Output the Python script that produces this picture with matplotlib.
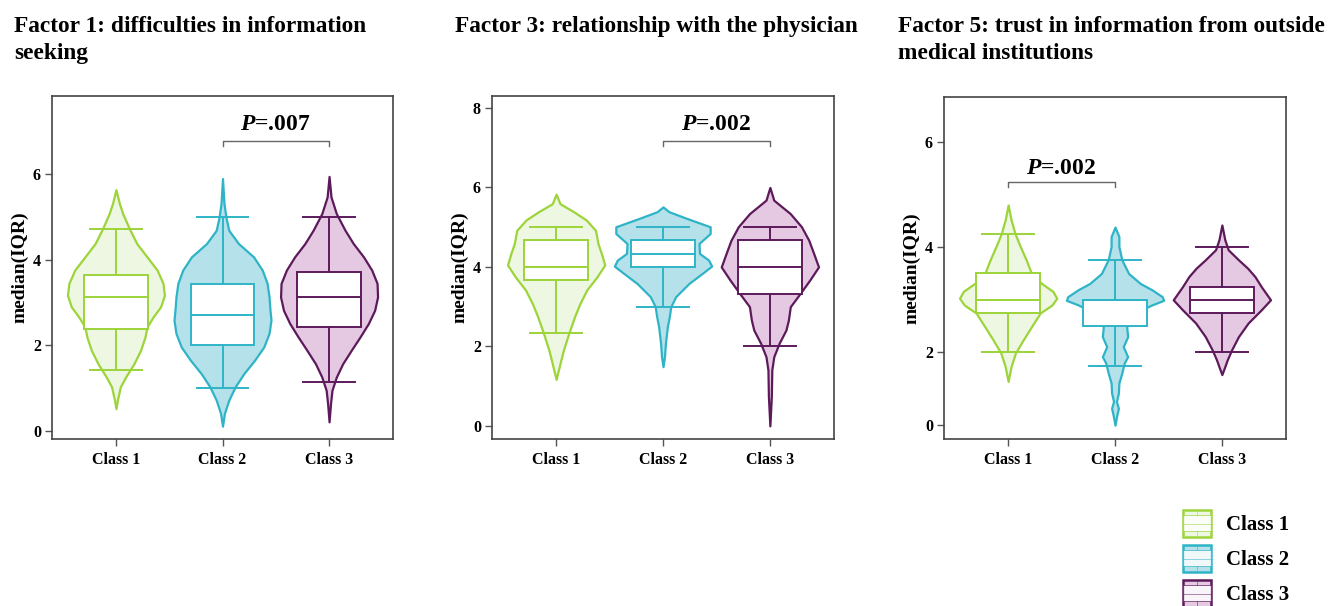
import matplotlib
matplotlib.use('Agg')
import matplotlib.pyplot as plt
from matplotlib.legend_handler import HandlerBase
from matplotlib.patches import Rectangle
from matplotlib.lines import Line2D

plt.rcParams['font.family'] = ['Liberation Serif', 'DejaVu Serif']
plt.rcParams['font.weight'] = 'bold'
plt.rcParams['mathtext.fontset'] = 'custom'
plt.rcParams['mathtext.it'] = 'Liberation Serif:bold:italic'
plt.rcParams['mathtext.rm'] = 'Liberation Serif:bold'

classes = ['Class 1', 'Class 2', 'Class 3']
edge_colors = ['#9CD43A', '#2EB4C6', '#5D1A5B']
fill_colors = ['#EEF7E1', '#B5E1EB', '#E5C9E3']

# ---- Factor 1 ----
f1_title = 'Factor 1: difficulties in information\nseeking'
f1_q1 = [2.38, 2.00, 2.43]
f1_med = [3.14, 2.71, 3.14]
f1_q3 = [3.64, 3.43, 3.71]
f1_lo = [1.43, 1.00, 1.14]
f1_hi = [4.71, 5.00, 5.00]
f1_c1_y = [5.64, 5.32, 5.08, 4.72, 4.38, 4.07, 3.76, 3.45, 3.17, 2.90, 2.67, 2.43, 2.20, 1.89, 1.57, 1.26, 1.03, 0.72, 0.52]
f1_c1_d = [0.00, 0.07, 0.14, 0.28, 0.43, 0.64, 0.85, 0.97, 1.00, 0.92, 0.77, 0.64, 0.60, 0.51, 0.37, 0.20, 0.09, 0.03, 0.00]
f1_c2_y = [5.90, 5.32, 5.00, 4.69, 4.38, 4.07, 3.76, 3.45, 3.13, 2.82, 2.59, 2.28, 1.96, 1.65, 1.34, 1.03, 0.72, 0.41, 0.11]
f1_c2_d = [0.00, 0.03, 0.07, 0.13, 0.33, 0.64, 0.82, 0.92, 0.96, 0.98, 1.00, 0.96, 0.85, 0.66, 0.44, 0.26, 0.13, 0.04, 0.00]
f1_c3_y = [5.95, 5.47, 5.08, 4.69, 4.38, 4.07, 3.76, 3.45, 3.13, 2.82, 2.51, 2.20, 1.89, 1.57, 1.26, 0.95, 0.64, 0.21]
f1_c3_d = [0.00, 0.04, 0.15, 0.33, 0.50, 0.71, 0.88, 0.99, 1.00, 0.94, 0.81, 0.64, 0.46, 0.28, 0.15, 0.06, 0.03, 0.00]
f1_ylim = (-0.19, 7.83)
f1_yticks = [0, 2, 4, 6]
f1_ylabels = ['0', '2', '4', '6']
f1_pair = (2, 3)
f1_bracket_y = 6.77
f1_p = '$P$=.007'
f1_p_y = 7.17

# ---- Factor 3 ----
f3_title = 'Factor 3: relationship with the physician'
f3_q1 = [3.67, 4.00, 3.33]
f3_med = [4.00, 4.33, 4.00]
f3_q3 = [4.67, 4.67, 4.67]
f3_lo = [2.33, 3.00, 2.00]
f3_hi = [5.00, 5.00, 5.00]
f3_c1_y = [5.83, 5.59, 5.39, 5.18, 4.92, 4.59, 4.34, 4.05, 3.75, 3.42, 3.08, 2.75, 2.33, 1.91, 1.57, 1.17]
f3_c1_d = [0.00, 0.08, 0.36, 0.62, 0.81, 0.86, 0.93, 1.00, 0.84, 0.63, 0.49, 0.38, 0.26, 0.15, 0.08, 0.00]
f3_c2_y = [5.51, 5.39, 5.22, 5.01, 4.84, 4.59, 4.34, 4.17, 4.02, 3.84, 3.58, 3.25, 3.00, 2.75, 2.50, 2.08, 1.74, 1.49]
f3_c2_d = [0.00, 0.12, 0.49, 0.97, 0.97, 0.74, 0.75, 0.94, 1.00, 0.81, 0.53, 0.26, 0.16, 0.13, 0.09, 0.05, 0.03, 0.00]
f3_c3_y = [6.00, 5.68, 5.34, 5.01, 4.67, 4.34, 4.00, 3.67, 3.33, 3.00, 2.66, 2.41, 2.08, 1.74, 1.41, 0.74, 0.00]
f3_c3_d = [0.00, 0.08, 0.42, 0.65, 0.80, 0.90, 1.00, 0.82, 0.62, 0.42, 0.38, 0.33, 0.19, 0.08, 0.04, 0.03, 0.00]
f3_ylim = (-0.33, 8.3)
f3_yticks = [0, 2, 4, 6, 8]
f3_ylabels = ['0', '2', '4', '6', '8']
f3_pair = (2, 3)
f3_bracket_y = 7.16
f3_p = '$P$=.002'
f3_p_y = 7.59

# ---- Factor 5 ----
f5_title = 'Factor 5: trust in information from outside\nmedical institutions'
f5_q1 = [2.75, 2.50, 2.75]
f5_med = [3.00, 3.00, 3.00]
f5_q3 = [3.50, 3.00, 3.25]
f5_lo = [2.00, 1.75, 2.00]
f5_hi = [4.25, 3.75, 4.00]
f5_c1_y = [4.80, 4.52, 4.26, 4.01, 3.76, 3.50, 3.31, 3.16, 3.03, 2.90, 2.75, 2.49, 2.24, 1.99, 1.73, 1.45]
f5_c1_d = [0.00, 0.06, 0.14, 0.25, 0.37, 0.48, 0.69, 0.92, 1.00, 0.90, 0.66, 0.48, 0.31, 0.15, 0.06, 0.00]
f5_c2_y = [4.38, 4.20, 4.01, 3.76, 3.50, 3.31, 3.19, 3.06, 2.99, 2.90, 2.81, 2.49, 2.30, 2.11, 1.92, 1.80, 1.61, 1.42, 1.23, 1.07, 0.94, 0.82, 0.62]
f5_c2_d = [0.00, 0.08, 0.08, 0.14, 0.28, 0.52, 0.76, 0.97, 1.00, 0.75, 0.55, 0.24, 0.26, 0.17, 0.26, 0.19, 0.14, 0.08, 0.07, 0.03, 0.07, 0.04, 0.00]
f5_c3_y = [4.42, 4.14, 3.95, 3.76, 3.60, 3.44, 3.25, 3.00, 2.81, 2.56, 2.30, 2.05, 1.86, 1.73, 1.58]
f5_c3_d = [0.00, 0.06, 0.13, 0.34, 0.53, 0.68, 0.81, 1.00, 0.81, 0.54, 0.34, 0.20, 0.11, 0.06, 0.00]
f5_ylim = (0.357, 6.85)
f5_yticks = [0.63, 2, 4, 6]
f5_ylabels = ['0', '2', '4', '6']
f5_pair = (1, 2)
f5_bracket_y = 5.23
f5_p = '$P$=.002'
f5_p_y = 5.49

positions = [1, 2, 3]


def violin_stats(ys, ds):
    return {'coords': ys, 'vals': ds, 'mean': 0, 'median': 0,
            'min': min(ys), 'max': max(ys)}


def draw_panel(ax, profiles, q1, med, q3, lo, hi, ylim, yticks, ylabels,
               pair, bracket_y, p_text, p_y):
    parts = ax.violin([violin_stats(y, d) for y, d in profiles],
                      positions=positions, widths=0.91, showextrema=False)
    for body, ec, fc in zip(parts['bodies'], edge_colors, fill_colors):
        body.set_facecolor(fc)
        body.set_edgecolor(ec)
        body.set_linewidth(1.6)
        body.set_joinstyle('round')
        body.set_alpha(1)
        body.set_zorder(1)

    stats = [{'q1': a, 'med': b, 'q3': c, 'whislo': d, 'whishi': e, 'fliers': []}
             for a, b, c, d, e in zip(q1, med, q3, lo, hi)]
    for st, pos, ec in zip(stats, positions, edge_colors):
        ax.bxp([st], positions=[pos], widths=0.6, capwidths=0.48,
               patch_artist=True, showfliers=False, zorder=2,
               boxprops=dict(facecolor='white', edgecolor=ec, linewidth=1.4),
               whiskerprops=dict(color=ec, linewidth=1.4),
               capprops=dict(color=ec, linewidth=1.4),
               medianprops=dict(color=ec, linewidth=1.4))

    x1, x2 = pair
    dy = (ylim[1] - ylim[0]) * 0.014
    ax.plot([x1, x1, x2, x2], [bracket_y - dy, bracket_y, bracket_y, bracket_y - dy],
            color='#666666', linewidth=1.0, zorder=3)
    ax.text((x1 + x2) / 2, p_y, p_text, ha='center', va='center',
            fontsize=17, fontweight='bold')

    ax.set_xlim(0.4, 3.6)
    ax.set_ylim(*ylim)
    ax.set_xticks(positions)
    ax.set_xticklabels(classes)
    ax.set_yticks(yticks)
    ax.set_yticklabels(ylabels)
    ax.set_ylabel('median(IQR)', fontsize=14, fontweight='bold', labelpad=3)
    ax.tick_params(direction='out', length=5, width=1, color='#555555',
                   labelsize=11.5, pad=3)
    ax.tick_params(axis='x', pad=4)
    for s in ax.spines.values():
        s.set_color('#444444')
        s.set_linewidth(1.2)


class ViolinBoxHandler(HandlerBase):
    def create_artists(self, legend, orig_handle, xdescent, ydescent,
                       width, height, fontsize, trans):
        ec = orig_handle.get_edgecolor()
        fc = orig_handle.get_facecolor()
        x0, y0 = -xdescent, -ydescent
        cx = x0 + width / 2
        outer = Rectangle((x0, y0), width, height, facecolor=fc, edgecolor=ec,
                          linewidth=1.8, transform=trans)
        inner = Rectangle((x0, y0 + 0.22 * height), width, 0.58 * height,
                          facecolor='white', edgecolor=ec, linewidth=0.6,
                          alpha=0.8, transform=trans)
        med = Line2D([x0, x0 + width], [y0 + 0.5 * height] * 2, color=ec,
                     linewidth=0.6, alpha=0.6, transform=trans)
        w_top = Line2D([cx, cx], [y0 + 0.8 * height, y0 + height], color=ec,
                       linewidth=0.6, alpha=0.6, transform=trans)
        w_bot = Line2D([cx, cx], [y0, y0 + 0.22 * height], color=ec,
                       linewidth=0.6, alpha=0.6, transform=trans)
        return [outer, inner, med, w_top, w_bot]


fig = plt.figure(figsize=(13.42, 6.06), dpi=100)
W, H = 1342, 606

ax1 = fig.add_axes([52 / W, 1 - 439 / H, 341 / W, 343 / H])
ax3 = fig.add_axes([492 / W, 1 - 439 / H, 342 / W, 343 / H])
ax5 = fig.add_axes([944 / W, 1 - 439 / H, 342 / W, 342 / H])

draw_panel(ax1, [(f1_c1_y, f1_c1_d), (f1_c2_y, f1_c2_d), (f1_c3_y, f1_c3_d)],
           f1_q1, f1_med, f1_q3, f1_lo, f1_hi, f1_ylim, f1_yticks, f1_ylabels,
           f1_pair, f1_bracket_y, f1_p, f1_p_y)
draw_panel(ax3, [(f3_c1_y, f3_c1_d), (f3_c2_y, f3_c2_d), (f3_c3_y, f3_c3_d)],
           f3_q1, f3_med, f3_q3, f3_lo, f3_hi, f3_ylim, f3_yticks, f3_ylabels,
           f3_pair, f3_bracket_y, f3_p, f3_p_y)
draw_panel(ax5, [(f5_c1_y, f5_c1_d), (f5_c2_y, f5_c2_d), (f5_c3_y, f5_c3_d)],
           f5_q1, f5_med, f5_q3, f5_lo, f5_hi, f5_ylim, f5_yticks, f5_ylabels,
           f5_pair, f5_bracket_y, f5_p, f5_p_y)

for x, t in [(14, f1_title), (455, f3_title), (898, f5_title)]:
    fig.text(x / W, 1 - 16 / H, t, ha='left', va='top', fontsize=16.8,
             fontweight='bold', linespacing=1.39)

handles = [Rectangle((0, 0), 1, 1, facecolor=fc, edgecolor=ec)
           for ec, fc in zip(edge_colors, fill_colors)]
fig.legend(handles, classes, handler_map={Rectangle: ViolinBoxHandler()},
           loc='upper left', bbox_to_anchor=(1183 / W, 1 - 510 / H),
           frameon=False, fontsize=15, handlelength=1.35, handleheight=1.617,
           handletextpad=0.7, labelspacing=0.384, borderpad=0, borderaxespad=0)

fig.savefig('out.png', dpi=100)
